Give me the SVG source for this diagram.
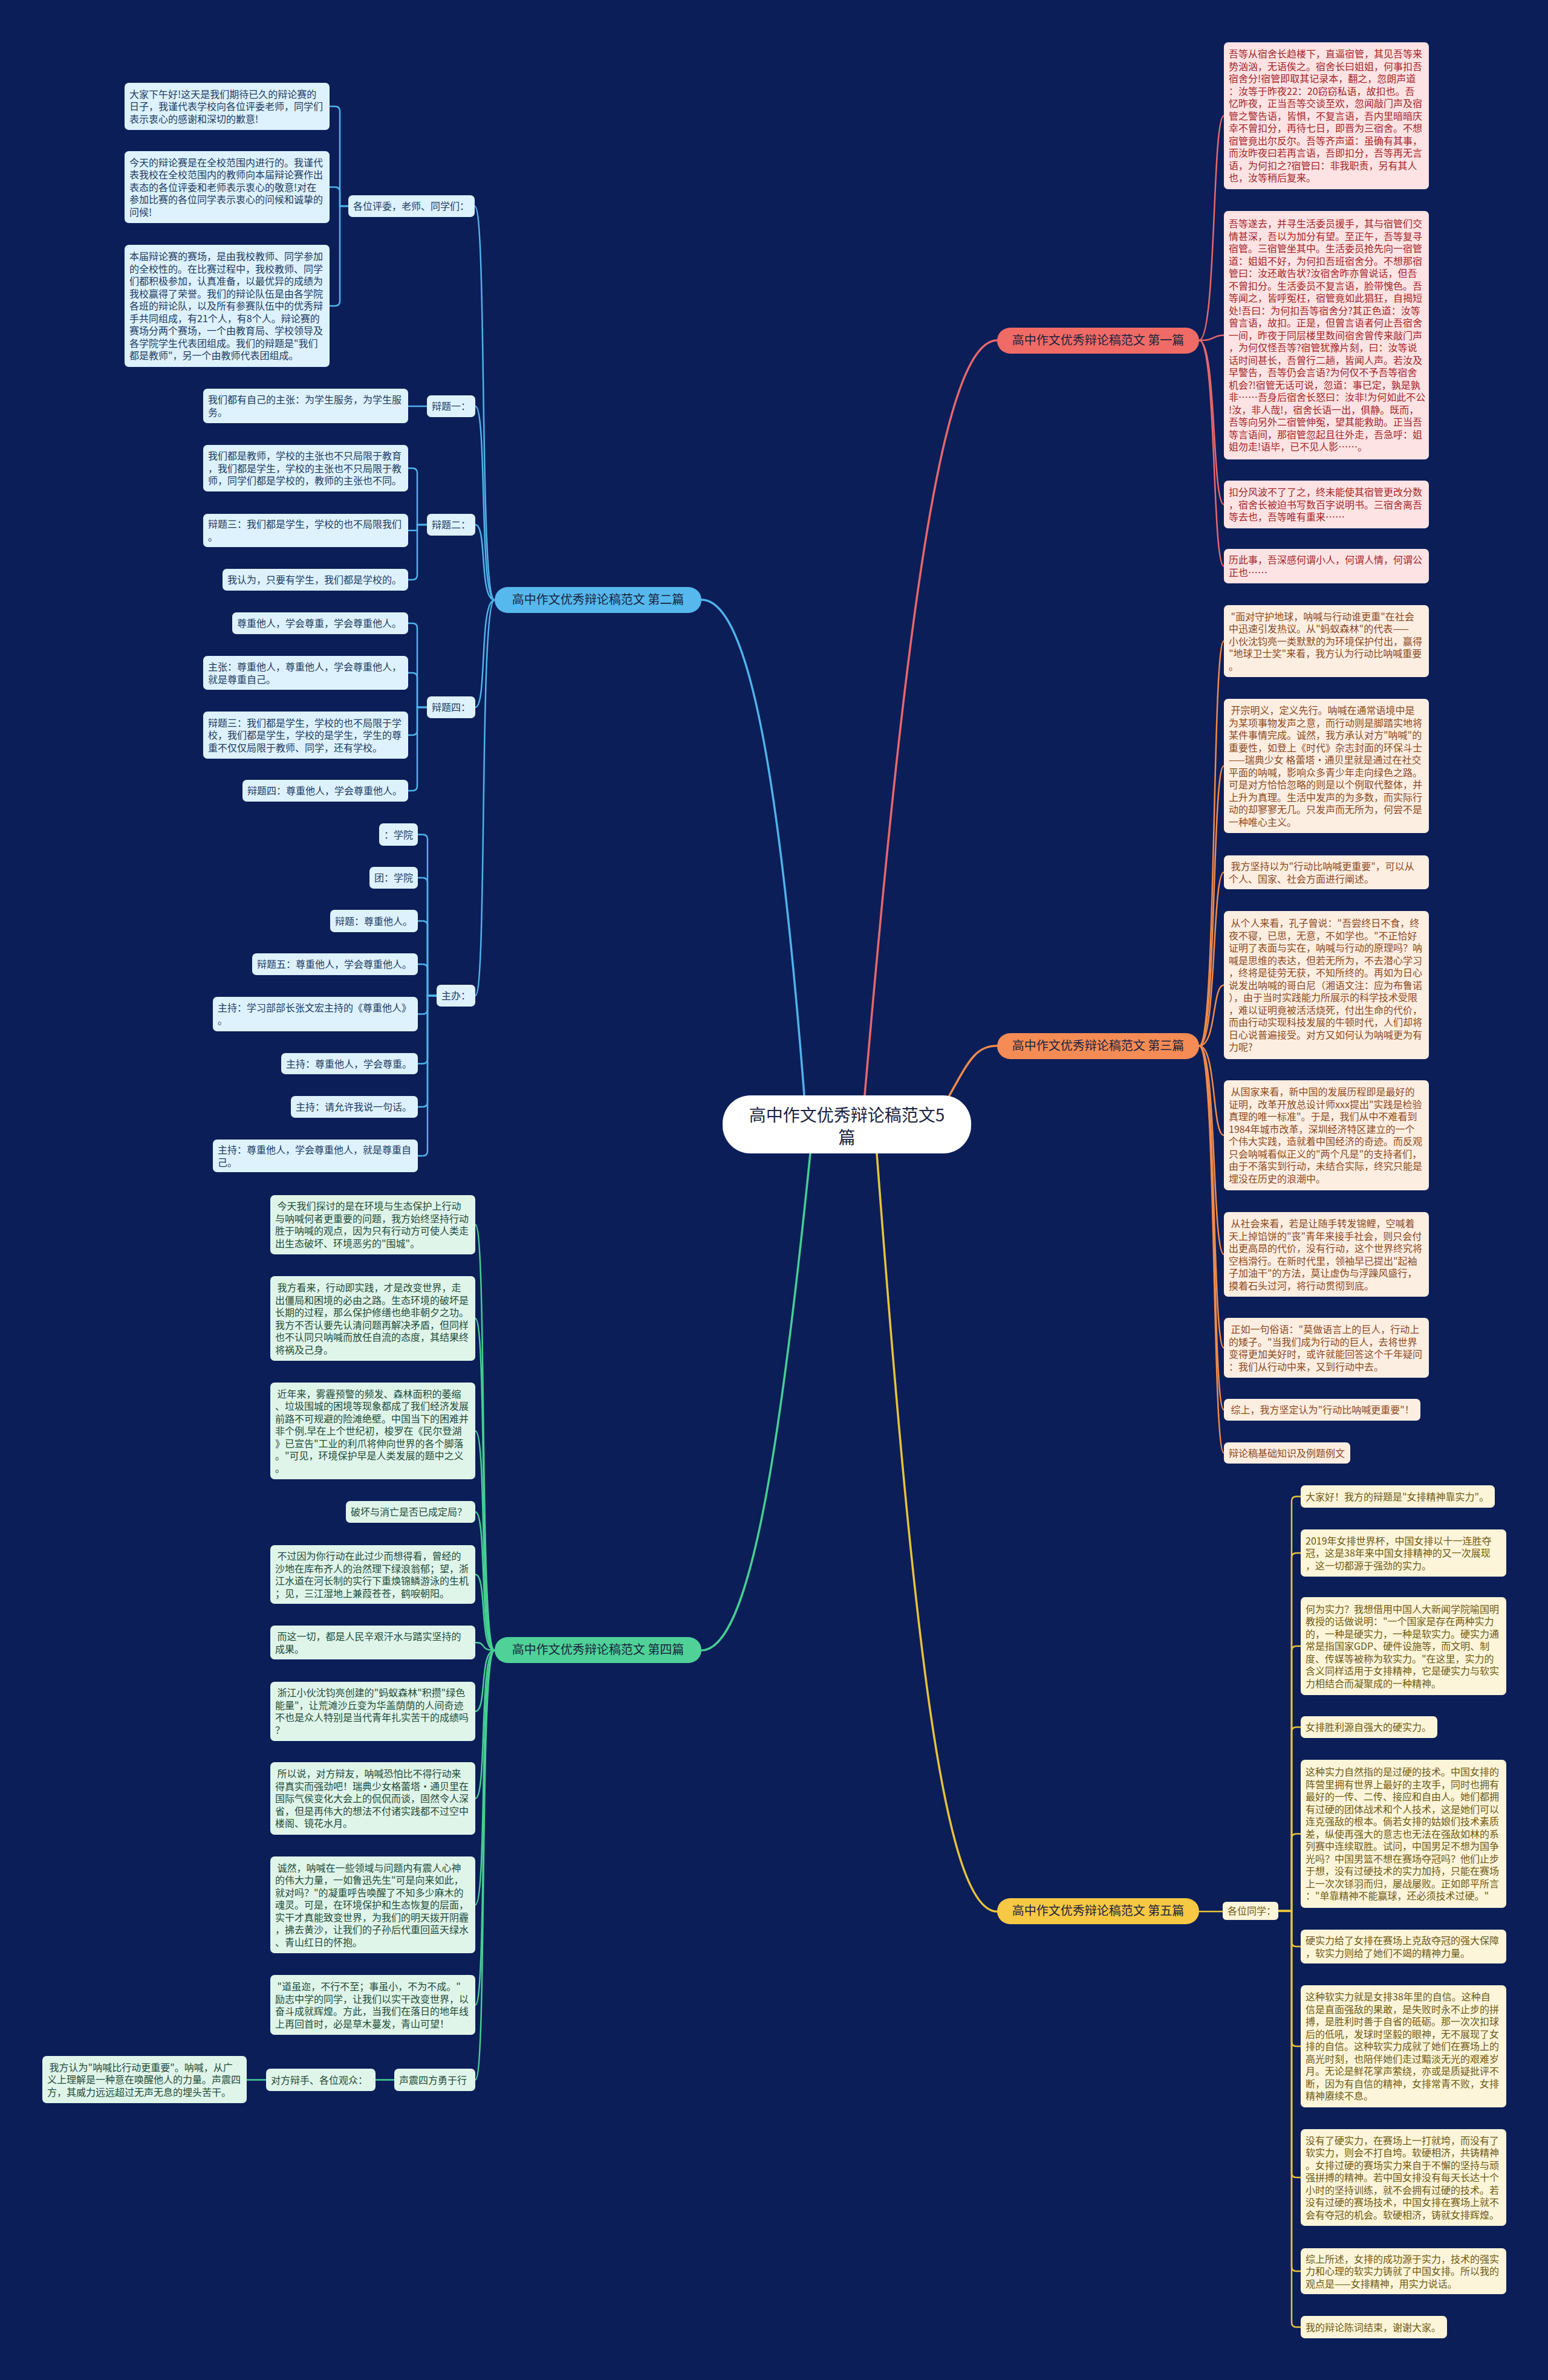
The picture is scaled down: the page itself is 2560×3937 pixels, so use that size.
<svg xmlns="http://www.w3.org/2000/svg" width="2560" height="3937" viewBox="0 0 2560 3937">
<style>
text{font-family:"Noto Sans CJK SC","Noto Sans",sans-serif;font-size:16px;white-space:pre}
.rp{fill:#fde3e3}.tp{fill:#a3262a}
.ro{fill:#fdeee2}.to{fill:#8c4a1e}
.ry{fill:#fdf5d9}.ty{fill:#6e5a14}
.rb{fill:#ddf2fd}.tb{fill:#1d3b60}
.rg{fill:#e0f5ea}.tg{fill:#1f4b38}
.br{font-size:20px;fill:#1b2340}
.c{fill:none;stroke-width:2.5;stroke-linecap:round}
.cm{fill:none;stroke-width:3.5;stroke-linecap:round}
.sp{stroke:#e8676b}.sb{stroke:#4fb3ea}.so{stroke:#f08a4b}.sg{stroke:#45cf91}.sy{stroke:#e8c33a}
</style>
<rect x="0" y="0" width="2560" height="3937" fill="#0b1e58"/>
<g id="connectors">
<path class="cm sp" d="M1430,1812 C1500,1000 1560,563 1649,563"/>
<path class="cm sb" d="M1330,1812 C1290,1300 1240,992 1160,992"/>
<path class="cm so" d="M1560,1830 C1600,1760 1610,1730 1649,1730"/>
<path class="cm sg" d="M1340,1908 C1290,2400 1240,2730 1160,2730"/>
<path class="cm sy" d="M1450,1908 C1510,2700 1560,3162 1649,3162"/>
<path class="c sp" d="M1983,563 C2012,563 2004,191.5 2024,191.5"/>
<path class="c sp" d="M1983,563 C2012,563 2004,554.5 2024,554.5"/>
<path class="c sp" d="M1983,563 C2012,563 2004,834.5 2024,834.5"/>
<path class="c sp" d="M1983,563 C2012,563 2004,936.5 2024,936.5"/>
<path class="c so" d="M1983,1730 C2012,1730 2004,1060.5 2024,1060.5"/>
<path class="c so" d="M1983,1730 C2012,1730 2004,1267 2024,1267"/>
<path class="c so" d="M1983,1730 C2012,1730 2004,1443 2024,1443"/>
<path class="c so" d="M1983,1730 C2012,1730 2004,1629.5 2024,1629.5"/>
<path class="c so" d="M1983,1730 C2012,1730 2004,1878 2024,1878"/>
<path class="c so" d="M1983,1730 C2012,1730 2004,2075 2024,2075"/>
<path class="c so" d="M1983,1730 C2012,1730 2004,2229.5 2024,2229.5"/>
<path class="c so" d="M1983,1730 C2012,1730 2004,2332 2024,2332"/>
<path class="c so" d="M1983,1730 C2012,1730 2004,2403.5 2024,2403.5"/>
<path class="c sy" d="M1983,3162 H2022"/>
<path class="c sy" d="M2114,3161 H2136 V2483.5 Q2136,2475.5 2144,2475.5 H2151"/>
<path class="c sy" d="M2114,3161 H2136 V2577 Q2136,2569 2144,2569 H2151"/>
<path class="c sy" d="M2114,3161 H2136 V2731 Q2136,2723 2144,2723 H2151"/>
<path class="c sy" d="M2114,3161 H2136 V2865 Q2136,2857 2144,2857 H2151"/>
<path class="c sy" d="M2114,3161 H2136 V3041.5 Q2136,3033.5 2144,3033.5 H2151"/>
<path class="c sy" d="M2114,3161 H2136 V3212 Q2136,3220 2144,3220 H2151"/>
<path class="c sy" d="M2114,3161 H2136 V3377 Q2136,3385 2144,3385 H2151"/>
<path class="c sy" d="M2114,3161 H2136 V3594 Q2136,3602 2144,3602 H2151"/>
<path class="c sy" d="M2114,3161 H2136 V3749 Q2136,3757 2144,3757 H2151"/>
<path class="c sy" d="M2114,3161 H2136 V3841.5 Q2136,3849.5 2144,3849.5 H2151"/>
<path class="c sb" d="M818,992.5 C792,992.5 806,341 785,341"/>
<path class="c sb" d="M818,992.5 C792,992.5 806,672 786,672"/>
<path class="c sb" d="M818,992.5 C792,992.5 806,868 786,868"/>
<path class="c sb" d="M818,992.5 C792,992.5 806,1170 786,1170"/>
<path class="c sb" d="M818,992.5 C792,992.5 806,1647 786,1647"/>
<path class="c sb" d="M576,341 H562 V184 Q562,176 554,176 H545"/>
<path class="c sb" d="M576,341 H562 V317.5 Q562,309.5 554,309.5 H545"/>
<path class="c sb" d="M576,341 H562 V498 Q562,506 554,506 H545"/>
<path class="c sb" d="M675,672 H706"/>
<path class="c sb" d="M706,868 H690 V782.5 Q690,774.5 682,774.5 H675"/>
<path class="c sb" d="M706,868 H690 V877.5 H675"/>
<path class="c sb" d="M706,868 H690 V951 Q690,959 682,959 H675"/>
<path class="c sb" d="M706,1170 H690 V1039 Q690,1031 682,1031 H675"/>
<path class="c sb" d="M706,1170 H690 V1121 Q690,1113 682,1113 H675"/>
<path class="c sb" d="M706,1170 H690 V1208 Q690,1216 682,1216 H675"/>
<path class="c sb" d="M706,1170 H690 V1300 Q690,1308 682,1308 H675"/>
<path class="c sb" d="M722,1647 H707 V1388.5 Q707,1380.5 699,1380.5 H691"/>
<path class="c sb" d="M722,1647 H707 V1460 Q707,1452 699,1452 H691"/>
<path class="c sb" d="M722,1647 H707 V1531.5 Q707,1523.5 699,1523.5 H691"/>
<path class="c sb" d="M722,1647 H707 V1603 Q707,1595 699,1595 H691"/>
<path class="c sb" d="M722,1647 H707 V1669.5 Q707,1677.5 699,1677.5 H691"/>
<path class="c sb" d="M722,1647 H707 V1751.5 Q707,1759.5 699,1759.5 H691"/>
<path class="c sb" d="M722,1647 H707 V1823 Q707,1831 699,1831 H691"/>
<path class="c sb" d="M722,1647 H707 V1904 Q707,1912 699,1912 H691"/>
<path class="c sg" d="M818,2730 C792,2730 806,2026 786,2026"/>
<path class="c sg" d="M818,2730 C792,2730 806,2181 786,2181"/>
<path class="c sg" d="M818,2730 C792,2730 806,2367 786,2367"/>
<path class="c sg" d="M818,2730 C792,2730 806,2501 786,2501"/>
<path class="c sg" d="M818,2730 C792,2730 806,2604.5 786,2604.5"/>
<path class="c sg" d="M818,2730 C792,2730 806,2717 786,2717"/>
<path class="c sg" d="M818,2730 C792,2730 806,2831 786,2831"/>
<path class="c sg" d="M818,2730 C792,2730 806,2975 786,2975"/>
<path class="c sg" d="M818,2730 C792,2730 806,3151 786,3151"/>
<path class="c sg" d="M818,2730 C792,2730 806,3316.5 786,3316.5"/>
<path class="c sg" d="M818,2730 C792,2730 806,3440.5 786,3440.5"/>
<path class="c sg" d="M652,3440.5 H621"/>
<path class="c sg" d="M440,3440.5 H408"/>
</g>
<g id="center"><rect x="1195" y="1812" width="411" height="96" rx="46" fill="#ffffff"/><text x="1400.5" y="1855" text-anchor="middle" style="font-size:28px;fill:#1b2340">高中作文优秀辩论稿范文5<tspan x="1400.5" dy="37">篇</tspan></text></g>
<g id="branch1"><rect x="1649" y="542" width="334" height="43" rx="21.5" fill="#f06b66"/><text class="br" x="1816" y="570" text-anchor="middle">高中作文优秀辩论稿范文 第一篇</text></g>
<g id="branch2"><rect x="818" y="971" width="342" height="43" rx="21.5" fill="#56b8ec"/><text class="br" x="989" y="999" text-anchor="middle">高中作文优秀辩论稿范文 第二篇</text></g>
<g id="branch3"><rect x="1649" y="1709" width="334" height="43" rx="21.5" fill="#f58c55"/><text class="br" x="1816" y="1737" text-anchor="middle">高中作文优秀辩论稿范文 第三篇</text></g>
<g id="branch4"><rect x="818" y="2708" width="342" height="43" rx="21.5" fill="#4fd197"/><text class="br" x="989" y="2736" text-anchor="middle">高中作文优秀辩论稿范文 第四篇</text></g>
<g id="branch5"><rect x="1649" y="3140" width="334" height="43" rx="21.5" fill="#f7c843"/><text class="br" x="1816" y="3168" text-anchor="middle">高中作文优秀辩论稿范文 第五篇</text></g>
<g id="p1"><rect class="rp" x="2024" y="70" width="339" height="243" rx="7"/><text class="tp" x="2032" y="95"><tspan x="2032">吾等从宿舍长趋楼下，直逼宿管，其见吾等来</tspan><tspan x="2032" dy="20.5">势汹汹，无语俟之。宿舍长曰姐姐，何事扣吾</tspan><tspan x="2032" dy="20.5">宿舍分!宿管即取其记录本，翻之，忽朗声道</tspan><tspan x="2032" dy="20.5">：汝等于昨夜22：20窃窃私语，故扣也。吾</tspan><tspan x="2032" dy="20.5">忆昨夜，正当吾等交谈至欢，忽闻敲门声及宿</tspan><tspan x="2032" dy="20.5">管之警告语，皆惧，不复言语，吾内里暗暗庆</tspan><tspan x="2032" dy="20.5">幸不曾扣分，再待七日，即晋为三宿舍。不想</tspan><tspan x="2032" dy="20.5">宿管竟出尔反尔。吾等齐声道：虽确有其事，</tspan><tspan x="2032" dy="20.5">而汝昨夜曰若再言语，吾即扣分，吾等再无言</tspan><tspan x="2032" dy="20.5">语，为何扣之?宿管曰：非我职责，另有其人</tspan><tspan x="2032" dy="20.5">也，汝等稍后复来。</tspan></text></g>
<g id="p2"><rect class="rp" x="2024" y="349" width="339" height="411" rx="7"/><text class="tp" x="2032" y="376"><tspan x="2032">吾等遂去，并寻生活委员援手，其与宿管们交</tspan><tspan x="2032" dy="20.5">情甚深，吾以为加分有望。至正午，吾等复寻</tspan><tspan x="2032" dy="20.5">宿管。三宿管坐其中。生活委员抢先向一宿管</tspan><tspan x="2032" dy="20.5">道：姐姐不好，为何扣吾班宿舍分。不想那宿</tspan><tspan x="2032" dy="20.5">管曰：汝还敢告状?汝宿舍昨亦曾说话，但吾</tspan><tspan x="2032" dy="20.5">不曾扣分。生活委员不复言语，脸带愧色。吾</tspan><tspan x="2032" dy="20.5">等闻之，皆呼冤枉，宿管竟如此猖狂，自揭短</tspan><tspan x="2032" dy="20.5">处!吾曰：为何扣吾等宿舍分?其正色道：汝等</tspan><tspan x="2032" dy="20.5">曾言语，故扣。正是，但曾言语者何止吾宿舍</tspan><tspan x="2032" dy="20.5">一间，昨夜于同层楼里数间宿舍曾传来敲门声</tspan><tspan x="2032" dy="20.5">，为何仅怪吾等?宿管犹豫片刻，曰：汝等说</tspan><tspan x="2032" dy="20.5">话时间甚长，吾曾行二趟，皆闻人声。若汝及</tspan><tspan x="2032" dy="20.5">早警告，吾等仍会言语?为何仅不予吾等宿舍</tspan><tspan x="2032" dy="20.5">机会?!宿管无话可说，忽道：事已定，孰是孰</tspan><tspan x="2032" dy="20.5">非……吾身后宿舍长怒曰：汝非!为何如此不公</tspan><tspan x="2032" dy="20.5">!汝，非人哉!，宿舍长语一出，俱静。既而，</tspan><tspan x="2032" dy="20.5">吾等向另外二宿管伸冤，望其能救助。正当吾</tspan><tspan x="2032" dy="20.5">等言语间，那宿管忽起且往外走，吾急呼：姐</tspan><tspan x="2032" dy="20.5">姐勿走!语毕，已不见人影……。</tspan></text></g>
<g id="p3"><rect class="rp" x="2024" y="795" width="339" height="79" rx="7"/><text class="tp" x="2032" y="820"><tspan x="2032">扣分风波不了了之，终未能使其宿管更改分数</tspan><tspan x="2032" dy="20.5">，宿舍长被迫书写数百字说明书。三宿舍离吾</tspan><tspan x="2032" dy="20.5">等去也，吾等唯有重来……</tspan></text></g>
<g id="p4"><rect class="rp" x="2024" y="908" width="339" height="57" rx="7"/><text class="tp" x="2032" y="932"><tspan x="2032">历此事，吾深感何谓小人，何谓人情，何谓公</tspan><tspan x="2032" dy="20.5">正也……</tspan></text></g>
<g id="o1"><rect class="ro" x="2024" y="1001" width="339" height="119" rx="7"/><text class="to" x="2032" y="1025.5"><tspan x="2032"> "面对守护地球，呐喊与行动谁更重"在社会</tspan><tspan x="2032" dy="20.5">中迅速引发热议。从"蚂蚁森林"的代表——</tspan><tspan x="2032" dy="20.5">小伙沈钧亮一类默默的为环境保护付出，赢得</tspan><tspan x="2032" dy="20.5">"地球卫士奖"来看，我方认为行动比呐喊重要</tspan><tspan x="2032" dy="20.5">。</tspan></text></g>
<g id="o2"><rect class="ro" x="2024" y="1156" width="339" height="222" rx="7"/><text class="to" x="2032" y="1181"><tspan x="2032"> 开宗明义，定义先行。呐喊在通常语境中是</tspan><tspan x="2032" dy="20.5">为某项事物发声之意，而行动则是脚踏实地将</tspan><tspan x="2032" dy="20.5">某件事情完成。诚然，我方承认对方"呐喊"的</tspan><tspan x="2032" dy="20.5">重要性，如登上《时代》杂志封面的环保斗士</tspan><tspan x="2032" dy="20.5">——瑞典少女 格蕾塔·通贝里就是通过在社交</tspan><tspan x="2032" dy="20.5">平面的呐喊，影响众多青少年走向绿色之路。</tspan><tspan x="2032" dy="20.5">可是对方恰恰忽略的则是以个例取代整体，并</tspan><tspan x="2032" dy="20.5">上升为真理。生活中发声的为多数，而实际行</tspan><tspan x="2032" dy="20.5">动的却寥寥无几。只发声而无所为，何尝不是</tspan><tspan x="2032" dy="20.5">一种唯心主义。</tspan></text></g>
<g id="o3"><rect class="ro" x="2024" y="1415" width="339" height="56" rx="7"/><text class="to" x="2032" y="1439"><tspan x="2032"> 我方坚持以为"行动比呐喊更重要"，可以从</tspan><tspan x="2032" dy="20.5">个人、国家、社会方面进行阐述。</tspan></text></g>
<g id="o4"><rect class="ro" x="2024" y="1507" width="339" height="245" rx="7"/><text class="to" x="2032" y="1533"><tspan x="2032"> 从个人来看，孔子曾说："吾尝终日不食，终</tspan><tspan x="2032" dy="20.5">夜不寝，已思，无意，不如学也。"不正恰好</tspan><tspan x="2032" dy="20.5">证明了表面与实在，呐喊与行动的原理吗？呐</tspan><tspan x="2032" dy="20.5">喊是思维的表达，但若无所为，不去潜心学习</tspan><tspan x="2032" dy="20.5">，终将是徒劳无获，不知所终的。再如为日心</tspan><tspan x="2032" dy="20.5">说发出呐喊的哥白尼（湘语文注：应为布鲁诺</tspan><tspan x="2032" dy="20.5">），由于当时实践能力所展示的科学技术受限</tspan><tspan x="2032" dy="20.5">，难以证明竟被活活烧死，付出生命的代价，</tspan><tspan x="2032" dy="20.5">而由行动实现科技发展的牛顿时代，人们却将</tspan><tspan x="2032" dy="20.5">日心说普遍接受。对方又如何认为呐喊更为有</tspan><tspan x="2032" dy="20.5">力呢?</tspan></text></g>
<g id="o5"><rect class="ro" x="2024" y="1787" width="339" height="182" rx="7"/><text class="to" x="2032" y="1812"><tspan x="2032"> 从国家来看，新中国的发展历程即是最好的</tspan><tspan x="2032" dy="20.5">证明，改革开放总设计师xxx提出"实践是检验</tspan><tspan x="2032" dy="20.5">真理的唯一标准"。于是，我们从中不难看到</tspan><tspan x="2032" dy="20.5">1984年城市改革，深圳经济特区建立的一个</tspan><tspan x="2032" dy="20.5">个伟大实践，造就着中国经济的奇迹。而反观</tspan><tspan x="2032" dy="20.5">只会呐喊看似正义的"两个凡是"的支持者们，</tspan><tspan x="2032" dy="20.5">由于不落实到行动，未结合实际，终究只能是</tspan><tspan x="2032" dy="20.5">埋没在历史的浪潮中。</tspan></text></g>
<g id="o6"><rect class="ro" x="2024" y="2005" width="339" height="140" rx="7"/><text class="to" x="2032" y="2030"><tspan x="2032"> 从社会来看，若是让随手转发锦鲤，空喊着</tspan><tspan x="2032" dy="20.5">天上掉馅饼的"丧"青年来接手社会，则只会付</tspan><tspan x="2032" dy="20.5">出更高昂的代价，没有行动，这个世界终究将</tspan><tspan x="2032" dy="20.5">空档滑行。在新时代里，领袖早已提出"起袖</tspan><tspan x="2032" dy="20.5">子加油干"的方法，莫让虚伪与浮躁风盛行，</tspan><tspan x="2032" dy="20.5">摸着石头过河，将行动贯彻到底。</tspan></text></g>
<g id="o7"><rect class="ro" x="2024" y="2180" width="339" height="99" rx="7"/><text class="to" x="2032" y="2205"><tspan x="2032"> 正如一句俗语："莫做语言上的巨人，行动上</tspan><tspan x="2032" dy="20.5">的矮子。"当我们成为行动的巨人，去将世界</tspan><tspan x="2032" dy="20.5">变得更加美好时，或许就能回答这个千年疑问</tspan><tspan x="2032" dy="20.5">：我们从行动中来，又到行动中去。</tspan></text></g>
<g id="o8"><rect class="ro" x="2024" y="2314" width="325" height="36" rx="7"/><text class="to" x="2032" y="2338"> 综上，我方坚定认为"行动比呐喊更重要"！</text></g>
<g id="o9"><rect class="ro" x="2024" y="2386" width="209" height="35" rx="7"/><text class="to" x="2032" y="2409.5">辩论稿基础知识及例题例文</text></g>
<g id="ylabel"><rect class="ry" x="2022" y="3146" width="92" height="30" rx="6"/><text class="ty" x="2030" y="3167">各位同学：</text></g>
<g id="y1"><rect class="ry" x="2151" y="2457" width="321" height="37" rx="7"/><text class="ty" x="2159" y="2481.5">大家好！我方的辩题是"女排精神靠实力"。</text></g>
<g id="y2"><rect class="ry" x="2151" y="2530" width="340" height="78" rx="7"/><text class="ty" x="2159" y="2554.5"><tspan x="2159">2019年女排世界杯，中国女排以十一连胜夺</tspan><tspan x="2159" dy="20.5">冠，这是38年来中国女排精神的又一次展现</tspan><tspan x="2159" dy="20.5">，这一切都源于强劲的实力。</tspan></text></g>
<g id="y3"><rect class="ry" x="2151" y="2642" width="340" height="162" rx="7"/><text class="ty" x="2159" y="2667.5"><tspan x="2159">何为实力？我想借用中国人大新闻学院喻国明</tspan><tspan x="2159" dy="20.5">教授的话做说明："一个国家是存在两种实力</tspan><tspan x="2159" dy="20.5">的，一种是硬实力，一种是软实力。硬实力通</tspan><tspan x="2159" dy="20.5">常是指国家GDP、硬件设施等，而文明、制</tspan><tspan x="2159" dy="20.5">度、传媒等被称为软实力。"在这里，实力的</tspan><tspan x="2159" dy="20.5">含义同样适用于女排精神，它是硬实力与软实</tspan><tspan x="2159" dy="20.5">力相结合而凝聚成的一种精神。</tspan></text></g>
<g id="y4"><rect class="ry" x="2151" y="2839" width="226" height="36" rx="7"/><text class="ty" x="2159" y="2863">女排胜利源自强大的硬实力。</text></g>
<g id="y5"><rect class="ry" x="2151" y="2911" width="340" height="245" rx="7"/><text class="ty" x="2159" y="2937"><tspan x="2159">这种实力自然指的是过硬的技术。中国女排的</tspan><tspan x="2159" dy="20.5">阵营里拥有世界上最好的主攻手，同时也拥有</tspan><tspan x="2159" dy="20.5">最好的一传、二传、接应和自由人。她们都拥</tspan><tspan x="2159" dy="20.5">有过硬的团体战术和个人技术，这是她们可以</tspan><tspan x="2159" dy="20.5">连克强敌的根本。倘若女排的姑娘们技术素质</tspan><tspan x="2159" dy="20.5">差，纵使再强大的意志也无法在强敌如林的系</tspan><tspan x="2159" dy="20.5">列赛中连续取胜。试问，中国男足不想为国争</tspan><tspan x="2159" dy="20.5">光吗？中国男篮不想在赛场夺冠吗？他们止步</tspan><tspan x="2159" dy="20.5">于想，没有过硬技术的实力加持，只能在赛场</tspan><tspan x="2159" dy="20.5">上一次次铩羽而归，屡战屡败。正如郎平所言</tspan><tspan x="2159" dy="20.5">："单靠精神不能赢球，还必须技术过硬。"</tspan></text></g>
<g id="y6"><rect class="ry" x="2151" y="3192" width="340" height="56" rx="7"/><text class="ty" x="2159" y="3216"><tspan x="2159">硬实力给了女排在赛场上克敌夺冠的强大保障</tspan><tspan x="2159" dy="20.5">，软实力则给了她们不竭的精神力量。</tspan></text></g>
<g id="y7"><rect class="ry" x="2151" y="3284" width="340" height="202" rx="7"/><text class="ty" x="2159" y="3309"><tspan x="2159">这种软实力就是女排38年里的自信。这种自</tspan><tspan x="2159" dy="20.5">信是直面强敌的果敢，是失败时永不止步的拼</tspan><tspan x="2159" dy="20.5">搏，是胜利时善于自省的砥砺。那一次次扣球</tspan><tspan x="2159" dy="20.5">后的低吼，发球时坚毅的眼神，无不展现了女</tspan><tspan x="2159" dy="20.5">排的自信。这种软实力成就了她们在赛场上的</tspan><tspan x="2159" dy="20.5">高光时刻，也陪伴她们走过黯淡无光的艰难岁</tspan><tspan x="2159" dy="20.5">月。无论是鲜花掌声萦绕，亦或是质疑批评不</tspan><tspan x="2159" dy="20.5">断，因为有自信的精神，女排常青不败，女排</tspan><tspan x="2159" dy="20.5">精神赓续不息。</tspan></text></g>
<g id="y8"><rect class="ry" x="2151" y="3522" width="340" height="160" rx="7"/><text class="ty" x="2159" y="3546.5"><tspan x="2159">没有了硬实力，在赛场上一打就垮，而没有了</tspan><tspan x="2159" dy="20.5">软实力，则会不打自垮。软硬相济，共铸精神</tspan><tspan x="2159" dy="20.5">。女排过硬的赛场实力来自于不懈的坚持与顽</tspan><tspan x="2159" dy="20.5">强拼搏的精神。若中国女排没有每天长达十个</tspan><tspan x="2159" dy="20.5">小时的坚持训练，就不会拥有过硬的技术。若</tspan><tspan x="2159" dy="20.5">没有过硬的赛场技术，中国女排在赛场上就不</tspan><tspan x="2159" dy="20.5">会有夺冠的机会。软硬相济，铸就女排辉煌。</tspan></text></g>
<g id="y9"><rect class="ry" x="2151" y="3719" width="340" height="76" rx="7"/><text class="ty" x="2159" y="3742.5"><tspan x="2159">综上所述，女排的成功源于实力，技术的强实</tspan><tspan x="2159" dy="20.5">力和心理的软实力铸就了中国女排。所以我的</tspan><tspan x="2159" dy="20.5">观点是——女排精神，用实力说话。</tspan></text></g>
<g id="y10"><rect class="ry" x="2151" y="3831" width="242" height="37" rx="7"/><text class="ty" x="2159" y="3855.5">我的辩论陈词结束，谢谢大家。</text></g>
<g id="l1"><rect class="rb" x="576" y="323" width="209" height="36" rx="7"/><text class="tb" x="584" y="347">各位评委，老师、同学们：</text></g>
<g id="b1"><rect class="rb" x="206" y="137" width="339" height="78" rx="7"/><text class="tb" x="214" y="161.5"><tspan x="214">大家下午好!这天是我们期待已久的辩论赛的</tspan><tspan x="214" dy="20.5">日子，我谨代表学校向各位评委老师，同学们</tspan><tspan x="214" dy="20.5">表示衷心的感谢和深切的歉意!</tspan></text></g>
<g id="b2"><rect class="rb" x="206" y="250" width="339" height="119" rx="7"/><text class="tb" x="214" y="274.5"><tspan x="214">今天的辩论赛是在全校范围内进行的。我谨代</tspan><tspan x="214" dy="20.5">表我校在全校范围内的教师向本届辩论赛作出</tspan><tspan x="214" dy="20.5">表态的各位评委和老师表示衷心的敬意!对在</tspan><tspan x="214" dy="20.5">参加比赛的各位同学表示衷心的问候和诚挚的</tspan><tspan x="214" dy="20.5">问候!</tspan></text></g>
<g id="b3"><rect class="rb" x="206" y="405" width="339" height="202" rx="7"/><text class="tb" x="214" y="430"><tspan x="214">本届辩论赛的赛场，是由我校教师、同学参加</tspan><tspan x="214" dy="20.5">的全校性的。在比赛过程中，我校教师、同学</tspan><tspan x="214" dy="20.5">们都积极参加，认真准备，以最优异的成绩为</tspan><tspan x="214" dy="20.5">我校赢得了荣誉。我们的辩论队伍是由各学院</tspan><tspan x="214" dy="20.5">各班的辩论队，以及所有参赛队伍中的优秀辩</tspan><tspan x="214" dy="20.5">手共同组成，有21个人，有8个人。辩论赛的</tspan><tspan x="214" dy="20.5">赛场分两个赛场，一个由教育局、学校领导及</tspan><tspan x="214" dy="20.5">各学院学生代表团组成。我们的辩题是"我们</tspan><tspan x="214" dy="20.5">都是教师"，另一个由教师代表团组成。</tspan></text></g>
<g id="t1"><rect class="rb" x="706" y="654" width="80" height="36" rx="7"/><text class="tb" x="714" y="678">辩题一：</text></g>
<g id="c1"><rect class="rb" x="336" y="643" width="339" height="57" rx="7"/><text class="tb" x="344" y="667"><tspan x="344">我们都有自己的主张：为学生服务，为学生服</tspan><tspan x="344" dy="20.5">务。</tspan></text></g>
<g id="t2"><rect class="rb" x="706" y="850" width="80" height="36" rx="7"/><text class="tb" x="714" y="874">辩题二：</text></g>
<g id="c2"><rect class="rb" x="336" y="736" width="339" height="77" rx="7"/><text class="tb" x="344" y="760"><tspan x="344">我们都是教师，学校的主张也不只局限于教育</tspan><tspan x="344" dy="20.5">，我们都是学生，学校的主张也不只局限于教</tspan><tspan x="344" dy="20.5">师，同学们都是学校的，教师的主张也不同。</tspan></text></g>
<g id="c3"><rect class="rb" x="336" y="850" width="339" height="55" rx="7"/><text class="tb" x="344" y="873"><tspan x="344">辩题三：我们都是学生，学校的也不局限我们</tspan><tspan x="344" dy="20.5">。</tspan></text></g>
<g id="c4"><rect class="rb" x="368" y="941" width="307" height="36" rx="7"/><text class="tb" x="376" y="965">我认为，只要有学生，我们都是学校的。</text></g>
<g id="t4"><rect class="rb" x="706" y="1152" width="80" height="36" rx="7"/><text class="tb" x="714" y="1176">辩题四：</text></g>
<g id="c5"><rect class="rb" x="384" y="1013" width="291" height="36" rx="7"/><text class="tb" x="392" y="1037">尊重他人，学会尊重，学会尊重他人。</text></g>
<g id="c6"><rect class="rb" x="336" y="1085" width="339" height="56" rx="7"/><text class="tb" x="344" y="1109"><tspan x="344">主张：尊重他人，尊重他人，学会尊重他人，</tspan><tspan x="344" dy="20.5">就是尊重自己。</tspan></text></g>
<g id="c7"><rect class="rb" x="336" y="1177" width="339" height="78" rx="7"/><text class="tb" x="344" y="1201.5"><tspan x="344">辩题三：我们都是学生，学校的也不局限于学</tspan><tspan x="344" dy="20.5">校，我们都是学生，学校的是学生，学生的尊</tspan><tspan x="344" dy="20.5">重不仅仅局限于教师、同学，还有学校。</tspan></text></g>
<g id="c8"><rect class="rb" x="401" y="1290" width="274" height="36" rx="7"/><text class="tb" x="409" y="1314">辩题四：尊重他人，学会尊重他人。</text></g>
<g id="zb"><rect class="rb" x="722" y="1629" width="64" height="36" rx="7"/><text class="tb" x="730" y="1653">主办：</text></g>
<g id="d1"><rect class="rb" x="627" y="1362" width="64" height="37" rx="7"/><text class="tb" x="635" y="1386.5">：学院</text></g>
<g id="d2"><rect class="rb" x="611" y="1434" width="80" height="36" rx="7"/><text class="tb" x="619" y="1458">团：学院</text></g>
<g id="d3"><rect class="rb" x="546" y="1505" width="145" height="37" rx="7"/><text class="tb" x="554" y="1529.5">辩题：尊重他人。</text></g>
<g id="d4"><rect class="rb" x="417" y="1577" width="274" height="36" rx="7"/><text class="tb" x="425" y="1601">辩题五：尊重他人，学会尊重他人。</text></g>
<g id="d5"><rect class="rb" x="352" y="1649" width="339" height="57" rx="7"/><text class="tb" x="360" y="1673"><tspan x="360">主持：学习部部长张文宏主持的《尊重他人》</tspan><tspan x="360" dy="20.5">。</tspan></text></g>
<g id="d6"><rect class="rb" x="465" y="1742" width="226" height="35" rx="7"/><text class="tb" x="473" y="1765.5">主持：尊重他人，学会尊重。</text></g>
<g id="d7"><rect class="rb" x="481" y="1813" width="210" height="36" rx="7"/><text class="tb" x="489" y="1837">主持：请允许我说一句话。</text></g>
<g id="d8"><rect class="rb" x="352" y="1885" width="339" height="54" rx="7"/><text class="tb" x="360" y="1908"><tspan x="360">主持：尊重他人，学会尊重他人，就是尊重自</tspan><tspan x="360" dy="20.5">己。</tspan></text></g>
<g id="g1"><rect class="rg" x="447" y="1977" width="339" height="98" rx="7"/><text class="tg" x="455" y="2001"><tspan x="455"> 今天我们探讨的是在环境与生态保护上行动</tspan><tspan x="455" dy="20.5">与呐喊何者更重要的问题，我方始终坚持行动</tspan><tspan x="455" dy="20.5">胜于呐喊的观点，因为只有行动方可使人类走</tspan><tspan x="455" dy="20.5">出生态破坏、环境恶劣的"围城"。</tspan></text></g>
<g id="g2"><rect class="rg" x="447" y="2111" width="339" height="140" rx="7"/><text class="tg" x="455" y="2136"><tspan x="455"> 我方看来，行动即实践，才是改变世界，走</tspan><tspan x="455" dy="20.5">出僵局和困境的必由之路。生态环境的破坏是</tspan><tspan x="455" dy="20.5">长期的过程，那么保护修缮也绝非朝夕之功。</tspan><tspan x="455" dy="20.5">我方不否认要先认清问题再解决矛盾，但同样</tspan><tspan x="455" dy="20.5">也不认同只呐喊而放任自流的态度，其结果终</tspan><tspan x="455" dy="20.5">将祸及己身。</tspan></text></g>
<g id="g3"><rect class="rg" x="447" y="2287" width="339" height="160" rx="7"/><text class="tg" x="455" y="2311.5"><tspan x="455"> 近年来，雾霾预警的频发、森林面积的萎缩</tspan><tspan x="455" dy="20.5">、垃圾围城的困境等现象都成了我们经济发展</tspan><tspan x="455" dy="20.5">前路不可规避的险滩绝壁。中国当下的困难并</tspan><tspan x="455" dy="20.5">非个例.早在上个世纪初，梭罗在《民尔登湖</tspan><tspan x="455" dy="20.5">》已宣告"工业的利爪将伸向世界的各个脚落</tspan><tspan x="455" dy="20.5">。"可见，环境保护早是人类发展的题中之义</tspan><tspan x="455" dy="20.5">。</tspan></text></g>
<g id="g4"><rect class="rg" x="572" y="2483" width="214" height="36" rx="7"/><text class="tg" x="580" y="2507">破坏与消亡是否已成定局？</text></g>
<g id="g5"><rect class="rg" x="447" y="2556" width="339" height="97" rx="7"/><text class="tg" x="455" y="2580"><tspan x="455"> 不过因为你行动在此过少而想得看，曾经的</tspan><tspan x="455" dy="20.5">沙地在库布齐人的治然理下绿浪翁郁；望，浙</tspan><tspan x="455" dy="20.5">江水道在河长制的实行下重焕锦鳞游泳的生机</tspan><tspan x="455" dy="20.5">；见，三江湿地上兼葭苍苍，鹤唳朝阳。</tspan></text></g>
<g id="g6"><rect class="rg" x="447" y="2689" width="339" height="56" rx="7"/><text class="tg" x="455" y="2713"><tspan x="455"> 而这一切，都是人民辛艰汗水与踏实坚持的</tspan><tspan x="455" dy="20.5">成果。</tspan></text></g>
<g id="g7"><rect class="rg" x="447" y="2782" width="339" height="98" rx="7"/><text class="tg" x="455" y="2806"><tspan x="455"> 浙江小伙沈钧亮创建的"蚂蚁森林"积攒"绿色</tspan><tspan x="455" dy="20.5">能量"，让荒滩沙丘变为华盖荫荫的人间奇迹</tspan><tspan x="455" dy="20.5">不也是众人特别是当代青年扎实苦干的成绩吗</tspan><tspan x="455" dy="20.5">？</tspan></text></g>
<g id="g8"><rect class="rg" x="447" y="2915" width="339" height="120" rx="7"/><text class="tg" x="455" y="2940"><tspan x="455"> 所以说，对方辩友，呐喊恐怕比不得行动来</tspan><tspan x="455" dy="20.5">得真实而强劲吧！瑞典少女格蕾塔·通贝里在</tspan><tspan x="455" dy="20.5">国际气侯变化大会上的侃侃而谈，固然令人深</tspan><tspan x="455" dy="20.5">省，但是再伟大的想法不付诸实践都不过空中</tspan><tspan x="455" dy="20.5">楼阁、镜花水月。</tspan></text></g>
<g id="g9"><rect class="rg" x="447" y="3071" width="339" height="160" rx="7"/><text class="tg" x="455" y="3095.5"><tspan x="455"> 诚然，呐喊在一些领域与问题内有震人心神</tspan><tspan x="455" dy="20.5">的伟大力量，一如鲁迅先生"可是向来如此，</tspan><tspan x="455" dy="20.5">就对吗？"的凝重呼告唤醒了不知多少麻木的</tspan><tspan x="455" dy="20.5">魂灵。可是，在环境保护和生态恢复的层面，</tspan><tspan x="455" dy="20.5">实干才真能致变世界，为我们的明天拨开阴霾</tspan><tspan x="455" dy="20.5">，拂去黄沙，让我们的子孙后代重回蓝天绿水</tspan><tspan x="455" dy="20.5">、青山红日的怀抱。</tspan></text></g>
<g id="g10"><rect class="rg" x="447" y="3267" width="339" height="99" rx="7"/><text class="tg" x="455" y="3292"><tspan x="455"> "道虽迩，不行不至；事虽小，不为不成。"</tspan><tspan x="455" dy="20.5">励志中学的同学，让我们以实干改变世界，以</tspan><tspan x="455" dy="20.5">奋斗成就辉煌。方此，当我们在落日的地年线</tspan><tspan x="455" dy="20.5">上再回首时，必是草木蔓发，青山可望！</tspan></text></g>
<g id="g11"><rect class="rg" x="652" y="3422" width="134" height="37" rx="7"/><text class="tg" x="660" y="3446.5">声震四方勇于行</text></g>
<g id="g12"><rect class="rg" x="440" y="3422" width="181" height="37" rx="7"/><text class="tg" x="448" y="3446.5">对方辩手、各位观众：</text></g>
<g id="g13"><rect class="rg" x="70" y="3401" width="338" height="78" rx="7"/><text class="tg" x="78" y="3425.5"><tspan x="78"> 我方认为"呐喊比行动更重要"。呐喊，从广</tspan><tspan x="78" dy="20.5">义上理解是一种意在唤醒他人的力量。声震四</tspan><tspan x="78" dy="20.5">方，其威力远远超过无声无息的埋头苦干。</tspan></text></g>
</svg>
